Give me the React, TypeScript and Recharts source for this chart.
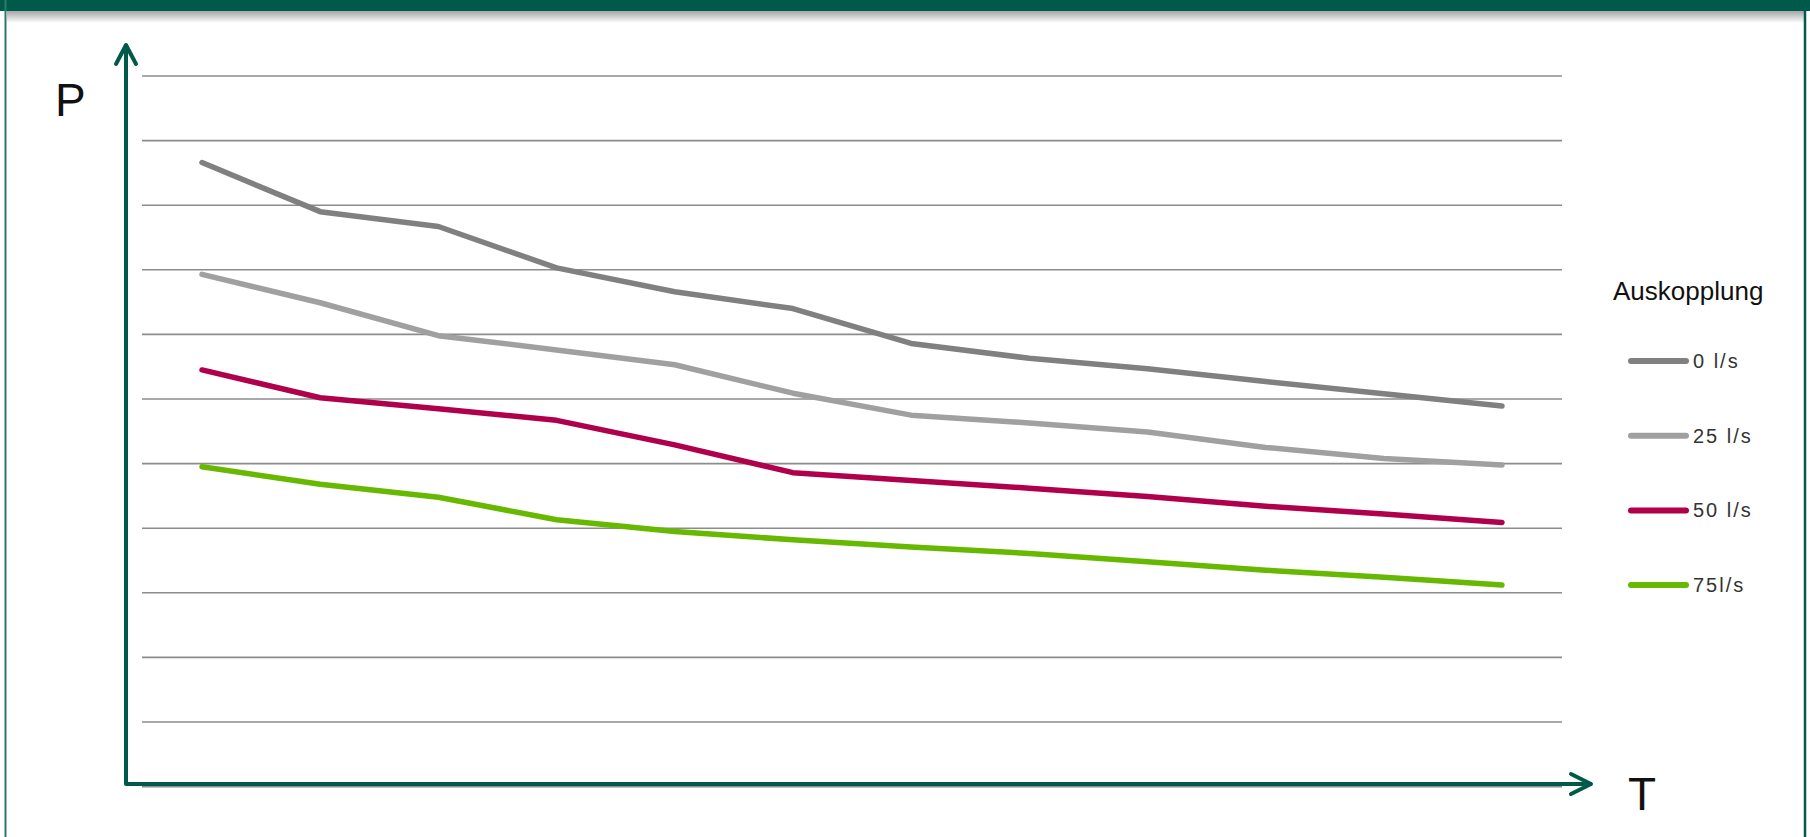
import { CartesianGrid, Legend, Line, LineChart, XAxis, YAxis } from 'recharts';

const zeitpunkte = ['t1', 't2', 't3', 't4', 't5', 't6', 't7', 't8', 't9', 't10', 't11', 't12'];
const aus0 = [9.66, 8.9, 8.67, 8.03, 7.66, 7.4, 6.86, 6.63, 6.47, 6.27, 6.08, 5.89];
const aus25 = [7.93, 7.49, 6.98, 6.76, 6.53, 6.09, 5.75, 5.63, 5.49, 5.25, 5.08, 4.98];
const aus50 = [6.45, 6.02, 5.85, 5.67, 5.29, 4.86, 4.74, 4.62, 4.49, 4.34, 4.22, 4.09];
const aus75 = [4.95, 4.68, 4.48, 4.13, 3.95, 3.82, 3.71, 3.61, 3.48, 3.35, 3.24, 3.12];
const gridTicks = [1, 2, 3, 4, 5, 6, 7, 8, 9, 10, 11];

const series = [
  { key: 'a0', name: '0 l/s', color: '#808080', values: aus0 },
  { key: 'a25', name: '25 l/s', color: '#a0a0a0', values: aus25 },
  { key: 'a50', name: '50 l/s', color: '#b0004c', values: aus50 },
  { key: 'a75', name: '75l/s', color: '#66b800', values: aus75 },
];

const data = zeitpunkte.map((t, i) => {
  const row: Record<string, string | number> = { t };
  series.forEach((s) => (row[s.key] = s.values[i]));
  return row;
});

const W = 1810;
const H = 837;
const GREEN = '#005a4b';

function LegendBox({ payload }: { payload?: { value: string; color: string }[] }) {
  return (
    <svg width={210} height={360} style={{ display: 'block' }}>
      <text x={13} y={40} fontSize={26} fontFamily="Liberation Sans, Arial, sans-serif" fill="#111">
        Auskopplung
      </text>
      {(payload ?? []).map((p, i) => {
        const y = 101 + i * 74.7;
        return (
          <g key={p.value}>
            <line x1={31} x2={86} y1={y} y2={y} stroke={p.color} strokeWidth={6} strokeLinecap="round" />
            <text
              x={93}
              y={y + 7}
              fontSize={20}
              letterSpacing={2}
              fontFamily="Liberation Sans, Arial, sans-serif"
              fill="#333"
            >
              {p.value}
            </text>
          </g>
        );
      })}
    </svg>
  );
}

export default function App() {
  return (
    <div style={{ position: 'absolute', left: 0, top: 0, width: W, height: H, background: '#fff', overflow: 'hidden' }}>
      <LineChart width={W} height={H} data={data} margin={{ top: 76, right: 248, bottom: 50.4, left: 142 }}>
        <CartesianGrid vertical={false} stroke="#8c8c8c" strokeWidth={1.6} />
        <XAxis dataKey="t" hide padding={{ left: 60, right: 60 }} />
        <YAxis hide domain={[0, 11]} ticks={gridTicks} type="number" />
        {series.map((s) => (
          <Line
            key={s.key}
            type="linear"
            dataKey={s.key}
            name={s.name}
            stroke={s.color}
            strokeWidth={5.5}
            strokeLinecap="round"
            strokeLinejoin="round"
            dot={false}
            activeDot={false}
            isAnimationActive={false}
          />
        ))}
        <Legend
          layout="horizontal"
          align="center"
          verticalAlign="middle"
          content={(props: any) => <LegendBox payload={props.payload} />}
          wrapperStyle={{ left: 1600, top: 260, width: 210, height: 360 }}
        />
      </LineChart>
      <svg width={W} height={H} style={{ position: 'absolute', left: 0, top: 0, pointerEvents: 'none' }}>
        <defs>
          <linearGradient id="topShadow" x1="0" y1="0" x2="0" y2="1">
            <stop offset="0%" stopColor="#000" stopOpacity={0.35} />
            <stop offset="100%" stopColor="#000" stopOpacity={0} />
          </linearGradient>
        </defs>
        {/* frame */}
        <rect x={7} y={11} width={1797} height={12} fill="url(#topShadow)" />
        <rect x={0} y={0} width={W} height={11} fill={GREEN} />
        <line x1={5.5} x2={5.5} y1={0} y2={H} stroke="#2a7a6a" strokeWidth={2} />
        <line x1={1805} x2={1805} y1={0} y2={H} stroke={GREEN} strokeWidth={2.5} />
        {/* axes */}
        <g stroke={GREEN} strokeWidth={4} fill="none" strokeLinecap="round" strokeLinejoin="round">
          <polyline points="126,46 126,784 1590,784" strokeLinecap="square" />
          <polyline points="116,64 126,45 136,64" />
          <polyline points="1571,774 1591,784 1571,794" />
        </g>
        <text x={55} y={116} fontSize={46} fontFamily="Liberation Sans, Arial, sans-serif" fill="#111">
          P
        </text>
        <text x={1628} y={810} fontSize={46} fontFamily="Liberation Sans, Arial, sans-serif" fill="#111">
          T
        </text>
      </svg>
    </div>
  );
}
